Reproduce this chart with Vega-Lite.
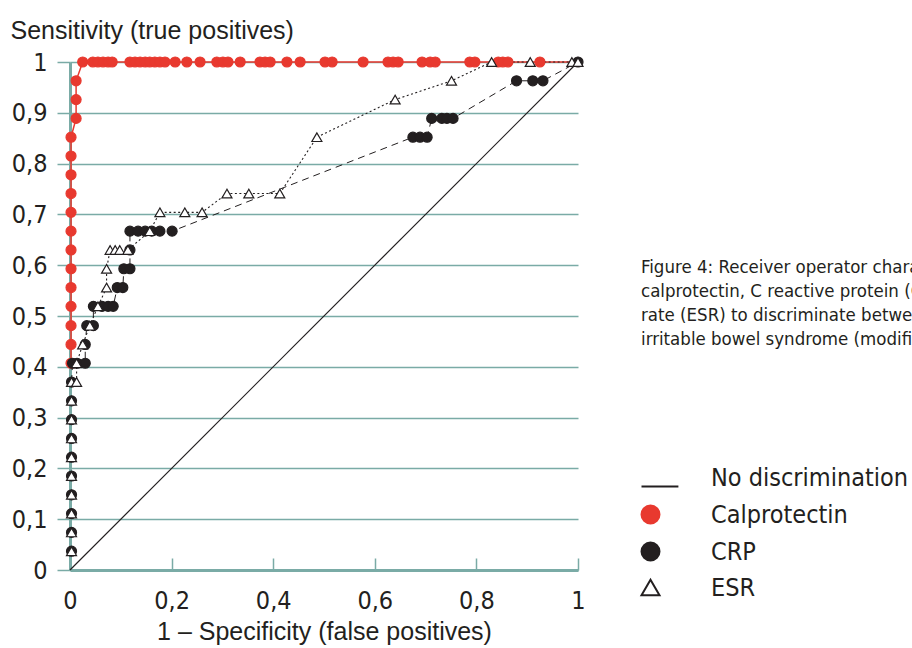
{
  "$schema": "https://vega.github.io/schema/vega-lite/v6.json",
  "width": 508,
  "height": 508,
  "autosize": {"type": "none"},
  "padding": {"left": 70, "top": 62, "right": 334, "bottom": 78},
  "background": "white",
  "config": {
    "view": {"stroke": null},
    "font": "Liberation Sans Narrow, sans-serif"
  },
  "title": {
    "text": [
      "Figure 4: Receiver operator characteristic curves of faecal",
      "calprotectin, C reactive protein (CRP) and erythrocyte sedimentation",
      "rate (ESR) to discriminate between inflammatory bowel disease and",
      "irritable bowel syndrome (modified)"
    ],
    "orient": "top",
    "anchor": "start",
    "frame": "group",
    "baseline": "top",
    "offset": 0,
    "dx": 571,
    "dy": 331,
    "font": "DejaVu Sans Condensed, sans-serif",
    "fontSize": 18.5,
    "fontWeight": "normal",
    "lineHeight": 24.3,
    "color": "#231f20"
  },
  "datasets": {
    "diag": [{"x": 0, "y": 0}, {"x": 1, "y": 1}],
    "roc": [
      {"s": "Calprotectin", "x": 0.002, "y": 0.407},
      {"s": "Calprotectin", "x": 0.002, "y": 0.444},
      {"s": "Calprotectin", "x": 0.002, "y": 0.481},
      {"s": "Calprotectin", "x": 0.002, "y": 0.519},
      {"s": "Calprotectin", "x": 0.002, "y": 0.556},
      {"s": "Calprotectin", "x": 0.002, "y": 0.593},
      {"s": "Calprotectin", "x": 0.002, "y": 0.630},
      {"s": "Calprotectin", "x": 0.002, "y": 0.667},
      {"s": "Calprotectin", "x": 0.002, "y": 0.704},
      {"s": "Calprotectin", "x": 0.002, "y": 0.741},
      {"s": "Calprotectin", "x": 0.002, "y": 0.778},
      {"s": "Calprotectin", "x": 0.002, "y": 0.815},
      {"s": "Calprotectin", "x": 0.002, "y": 0.852},
      {"s": "Calprotectin", "x": 0.012, "y": 0.889},
      {"s": "Calprotectin", "x": 0.012, "y": 0.926},
      {"s": "Calprotectin", "x": 0.012, "y": 0.963},
      {"s": "Calprotectin", "x": 0.025, "y": 1},
      {"s": "Calprotectin", "x": 0.045, "y": 1},
      {"s": "Calprotectin", "x": 0.055, "y": 1},
      {"s": "Calprotectin", "x": 0.065, "y": 1},
      {"s": "Calprotectin", "x": 0.075, "y": 1},
      {"s": "Calprotectin", "x": 0.083, "y": 1},
      {"s": "Calprotectin", "x": 0.118, "y": 1},
      {"s": "Calprotectin", "x": 0.128, "y": 1},
      {"s": "Calprotectin", "x": 0.138, "y": 1},
      {"s": "Calprotectin", "x": 0.148, "y": 1},
      {"s": "Calprotectin", "x": 0.157, "y": 1},
      {"s": "Calprotectin", "x": 0.167, "y": 1},
      {"s": "Calprotectin", "x": 0.177, "y": 1},
      {"s": "Calprotectin", "x": 0.187, "y": 1},
      {"s": "Calprotectin", "x": 0.207, "y": 1},
      {"s": "Calprotectin", "x": 0.230, "y": 1},
      {"s": "Calprotectin", "x": 0.256, "y": 1},
      {"s": "Calprotectin", "x": 0.289, "y": 1},
      {"s": "Calprotectin", "x": 0.301, "y": 1},
      {"s": "Calprotectin", "x": 0.311, "y": 1},
      {"s": "Calprotectin", "x": 0.335, "y": 1},
      {"s": "Calprotectin", "x": 0.374, "y": 1},
      {"s": "Calprotectin", "x": 0.384, "y": 1},
      {"s": "Calprotectin", "x": 0.394, "y": 1},
      {"s": "Calprotectin", "x": 0.427, "y": 1},
      {"s": "Calprotectin", "x": 0.453, "y": 1},
      {"s": "Calprotectin", "x": 0.502, "y": 1},
      {"s": "Calprotectin", "x": 0.516, "y": 1},
      {"s": "Calprotectin", "x": 0.577, "y": 1},
      {"s": "Calprotectin", "x": 0.626, "y": 1},
      {"s": "Calprotectin", "x": 0.636, "y": 1},
      {"s": "Calprotectin", "x": 0.646, "y": 1},
      {"s": "Calprotectin", "x": 0.693, "y": 1},
      {"s": "Calprotectin", "x": 0.709, "y": 1},
      {"s": "Calprotectin", "x": 0.719, "y": 1},
      {"s": "Calprotectin", "x": 0.787, "y": 1},
      {"s": "Calprotectin", "x": 0.797, "y": 1},
      {"s": "Calprotectin", "x": 0.843, "y": 1},
      {"s": "Calprotectin", "x": 0.852, "y": 1},
      {"s": "Calprotectin", "x": 0.862, "y": 1},
      {"s": "Calprotectin", "x": 0.925, "y": 1},
      {"s": "Calprotectin", "x": 1, "y": 1},
      {"s": "CRP", "x": 0.003, "y": 0.037},
      {"s": "CRP", "x": 0.003, "y": 0.074},
      {"s": "CRP", "x": 0.003, "y": 0.111},
      {"s": "CRP", "x": 0.003, "y": 0.148},
      {"s": "CRP", "x": 0.003, "y": 0.185},
      {"s": "CRP", "x": 0.003, "y": 0.222},
      {"s": "CRP", "x": 0.003, "y": 0.259},
      {"s": "CRP", "x": 0.003, "y": 0.296},
      {"s": "CRP", "x": 0.003, "y": 0.333},
      {"s": "CRP", "x": 0.003, "y": 0.370},
      {"s": "CRP", "x": 0.005, "y": 0.407},
      {"s": "CRP", "x": 0.014, "y": 0.407},
      {"s": "CRP", "x": 0.030, "y": 0.407},
      {"s": "CRP", "x": 0.030, "y": 0.444},
      {"s": "CRP", "x": 0.033, "y": 0.481},
      {"s": "CRP", "x": 0.046, "y": 0.481},
      {"s": "CRP", "x": 0.046, "y": 0.519},
      {"s": "CRP", "x": 0.063, "y": 0.519},
      {"s": "CRP", "x": 0.075, "y": 0.519},
      {"s": "CRP", "x": 0.085, "y": 0.519},
      {"s": "CRP", "x": 0.093, "y": 0.556},
      {"s": "CRP", "x": 0.104, "y": 0.556},
      {"s": "CRP", "x": 0.106, "y": 0.593},
      {"s": "CRP", "x": 0.118, "y": 0.593},
      {"s": "CRP", "x": 0.118, "y": 0.630},
      {"s": "CRP", "x": 0.118, "y": 0.667},
      {"s": "CRP", "x": 0.134, "y": 0.667},
      {"s": "CRP", "x": 0.148, "y": 0.667},
      {"s": "CRP", "x": 0.161, "y": 0.667},
      {"s": "CRP", "x": 0.177, "y": 0.667},
      {"s": "CRP", "x": 0.201, "y": 0.667},
      {"s": "CRP", "x": 0.675, "y": 0.852},
      {"s": "CRP", "x": 0.689, "y": 0.852},
      {"s": "CRP", "x": 0.703, "y": 0.852},
      {"s": "CRP", "x": 0.712, "y": 0.889},
      {"s": "CRP", "x": 0.732, "y": 0.889},
      {"s": "CRP", "x": 0.742, "y": 0.889},
      {"s": "CRP", "x": 0.754, "y": 0.889},
      {"s": "CRP", "x": 0.879, "y": 0.963},
      {"s": "CRP", "x": 0.911, "y": 0.963},
      {"s": "CRP", "x": 0.931, "y": 0.963},
      {"s": "CRP", "x": 1, "y": 1},
      {"s": "ESR", "x": 0.003, "y": 0.037},
      {"s": "ESR", "x": 0.003, "y": 0.074},
      {"s": "ESR", "x": 0.003, "y": 0.111},
      {"s": "ESR", "x": 0.003, "y": 0.148},
      {"s": "ESR", "x": 0.003, "y": 0.185},
      {"s": "ESR", "x": 0.003, "y": 0.222},
      {"s": "ESR", "x": 0.003, "y": 0.259},
      {"s": "ESR", "x": 0.003, "y": 0.296},
      {"s": "ESR", "x": 0.003, "y": 0.333},
      {"s": "ESR", "x": 0.003, "y": 0.370},
      {"s": "ESR", "x": 0.013, "y": 0.370},
      {"s": "ESR", "x": 0.013, "y": 0.407},
      {"s": "ESR", "x": 0.025, "y": 0.444},
      {"s": "ESR", "x": 0.039, "y": 0.481},
      {"s": "ESR", "x": 0.055, "y": 0.519},
      {"s": "ESR", "x": 0.072, "y": 0.556},
      {"s": "ESR", "x": 0.072, "y": 0.593},
      {"s": "ESR", "x": 0.079, "y": 0.630},
      {"s": "ESR", "x": 0.089, "y": 0.630},
      {"s": "ESR", "x": 0.098, "y": 0.630},
      {"s": "ESR", "x": 0.114, "y": 0.630},
      {"s": "ESR", "x": 0.157, "y": 0.667},
      {"s": "ESR", "x": 0.177, "y": 0.704},
      {"s": "ESR", "x": 0.226, "y": 0.704},
      {"s": "ESR", "x": 0.260, "y": 0.704},
      {"s": "ESR", "x": 0.309, "y": 0.741},
      {"s": "ESR", "x": 0.352, "y": 0.741},
      {"s": "ESR", "x": 0.413, "y": 0.741},
      {"s": "ESR", "x": 0.486, "y": 0.852},
      {"s": "ESR", "x": 0.640, "y": 0.926},
      {"s": "ESR", "x": 0.751, "y": 0.963},
      {"s": "ESR", "x": 0.830, "y": 1},
      {"s": "ESR", "x": 0.906, "y": 1},
      {"s": "ESR", "x": 0.988, "y": 1},
      {"s": "ESR", "x": 1, "y": 1}
    ]
  },
  "layer": [
    {
      "data": {"name": "diag"},
      "mark": {"type": "line", "color": "#231f20", "strokeWidth": 1.2},
      "encoding": {
        "x": {
          "field": "x", "type": "quantitative",
          "scale": {"domain": [0, 1], "nice": false, "zero": false},
          "axis": {
            "values": [0, 0.2, 0.4, 0.6, 0.8, 1],
            "labelExpr": "replace(format(datum.value, '~g'), '.', ',')",
            "grid": false,
            "domainColor": "#7aaba6", "domainWidth": 3,
            "tickColor": "#7aaba6", "tickWidth": 1.5, "tickSize": -12,
            "labelPadding": 30, "labelFlush": false,
            "labelFont": "DejaVu Sans Condensed, sans-serif",
            "labelFontSize": 25, "labelColor": "#231f20",
            "title": "1 – Specificity (false positives)",
            "titleFont": "Liberation Sans Narrow, sans-serif",
            "titleFontSize": 25, "titleFontWeight": "normal", "titleColor": "#231f20",
            "titlePadding": 6
          }
        },
        "y": {
          "field": "y", "type": "quantitative",
          "scale": {"domain": [0, 1], "nice": false, "zero": false},
          "axis": {
            "values": [0, 0.1, 0.2, 0.3, 0.4, 0.5, 0.6, 0.7, 0.8, 0.9, 1],
            "labelExpr": "replace(format(datum.value, '~g'), '.', ',')",
            "grid": true, "gridColor": "#7aaba6", "gridWidth": 1.5,
            "domainColor": "#7aaba6", "domainWidth": 3,
            "tickColor": "#7aaba6", "tickWidth": 1.5, "tickSize": 13,
            "labelPadding": 10, "labelFlush": false,
            "labelFont": "DejaVu Sans Condensed, sans-serif",
            "labelFontSize": 25, "labelColor": "#231f20",
            "title": "Sensitivity (true positives)",
            "titleFont": "Liberation Sans Narrow, sans-serif",
            "titleAngle": 0, "titleAlign": "left", "titleBaseline": "alphabetic",
            "titleX": -60, "titleY": -24,
            "titleFontSize": 25, "titleFontWeight": "normal", "titleColor": "#231f20"
          }
        }
      }
    },
    {
      "data": {"name": "roc"},
      "transform": [{"filter": "datum.s == 'Calprotectin'"}],
      "mark": {"type": "line", "color": "#e8392f", "strokeWidth": 1.5},
      "encoding": {
        "x": {"field": "x", "type": "quantitative"},
        "y": {"field": "y", "type": "quantitative"},
        "order": {"value": null}
      }
    },
    {
      "data": {"name": "roc"},
      "transform": [{"filter": "datum.s == 'CRP' && datum.y > 0.36"}],
      "mark": {"type": "line", "color": "#231f20", "strokeWidth": 1, "strokeDash": [7, 5]},
      "encoding": {
        "x": {"field": "x", "type": "quantitative"},
        "y": {"field": "y", "type": "quantitative"},
        "order": {"value": null}
      }
    },
    {
      "data": {"name": "roc"},
      "transform": [{"filter": "datum.s == 'ESR' && datum.y > 0.36"}],
      "mark": {"type": "line", "color": "#231f20", "strokeWidth": 1.1, "strokeDash": [2, 2.5]},
      "encoding": {
        "x": {"field": "x", "type": "quantitative"},
        "y": {"field": "y", "type": "quantitative"},
        "order": {"value": null}
      }
    },
    {
      "data": {"name": "roc"},
      "transform": [{"filter": "datum.s != 'Calprotectin' || datum.x < 0.99"}],
      "mark": {"type": "point", "opacity": 1, "strokeWidth": 1.2, "size": 100},
      "encoding": {
        "x": {"field": "x", "type": "quantitative"},
        "y": {"field": "y", "type": "quantitative"},
        "shape": {
          "field": "s", "type": "nominal",
          "scale": {
            "domain": ["No discrimination", "Calprotectin", "CRP", "ESR"],
            "range": ["M-1,1L3.1,1", "circle", "circle", "triangle-up"]
          },
          "legend": {
            "orient": "none", "legendX": 568, "legendY": 403,
            "title": null,
            "labelFont": "DejaVu Sans Condensed, sans-serif",
            "labelFontSize": 25, "labelColor": "#231f20", "labelLimit": 400,
            "symbolSize": 324, "symbolStrokeWidth": 2, "symbolOpacity": 1,
            "rowPadding": 10, "labelOffset": 48, "padding": 0
          }
        },
        "fill": {
          "field": "s", "type": "nominal",
          "scale": {
            "domain": ["No discrimination", "Calprotectin", "CRP", "ESR"],
            "range": ["transparent", "#e8392f", "#231f20", "white"]
          }
        },
        "stroke": {
          "field": "s", "type": "nominal",
          "scale": {
            "domain": ["No discrimination", "Calprotectin", "CRP", "ESR"],
            "range": ["#231f20", "#e8392f", "#231f20", "#231f20"]
          }
        }
      }
    }
  ]
}
